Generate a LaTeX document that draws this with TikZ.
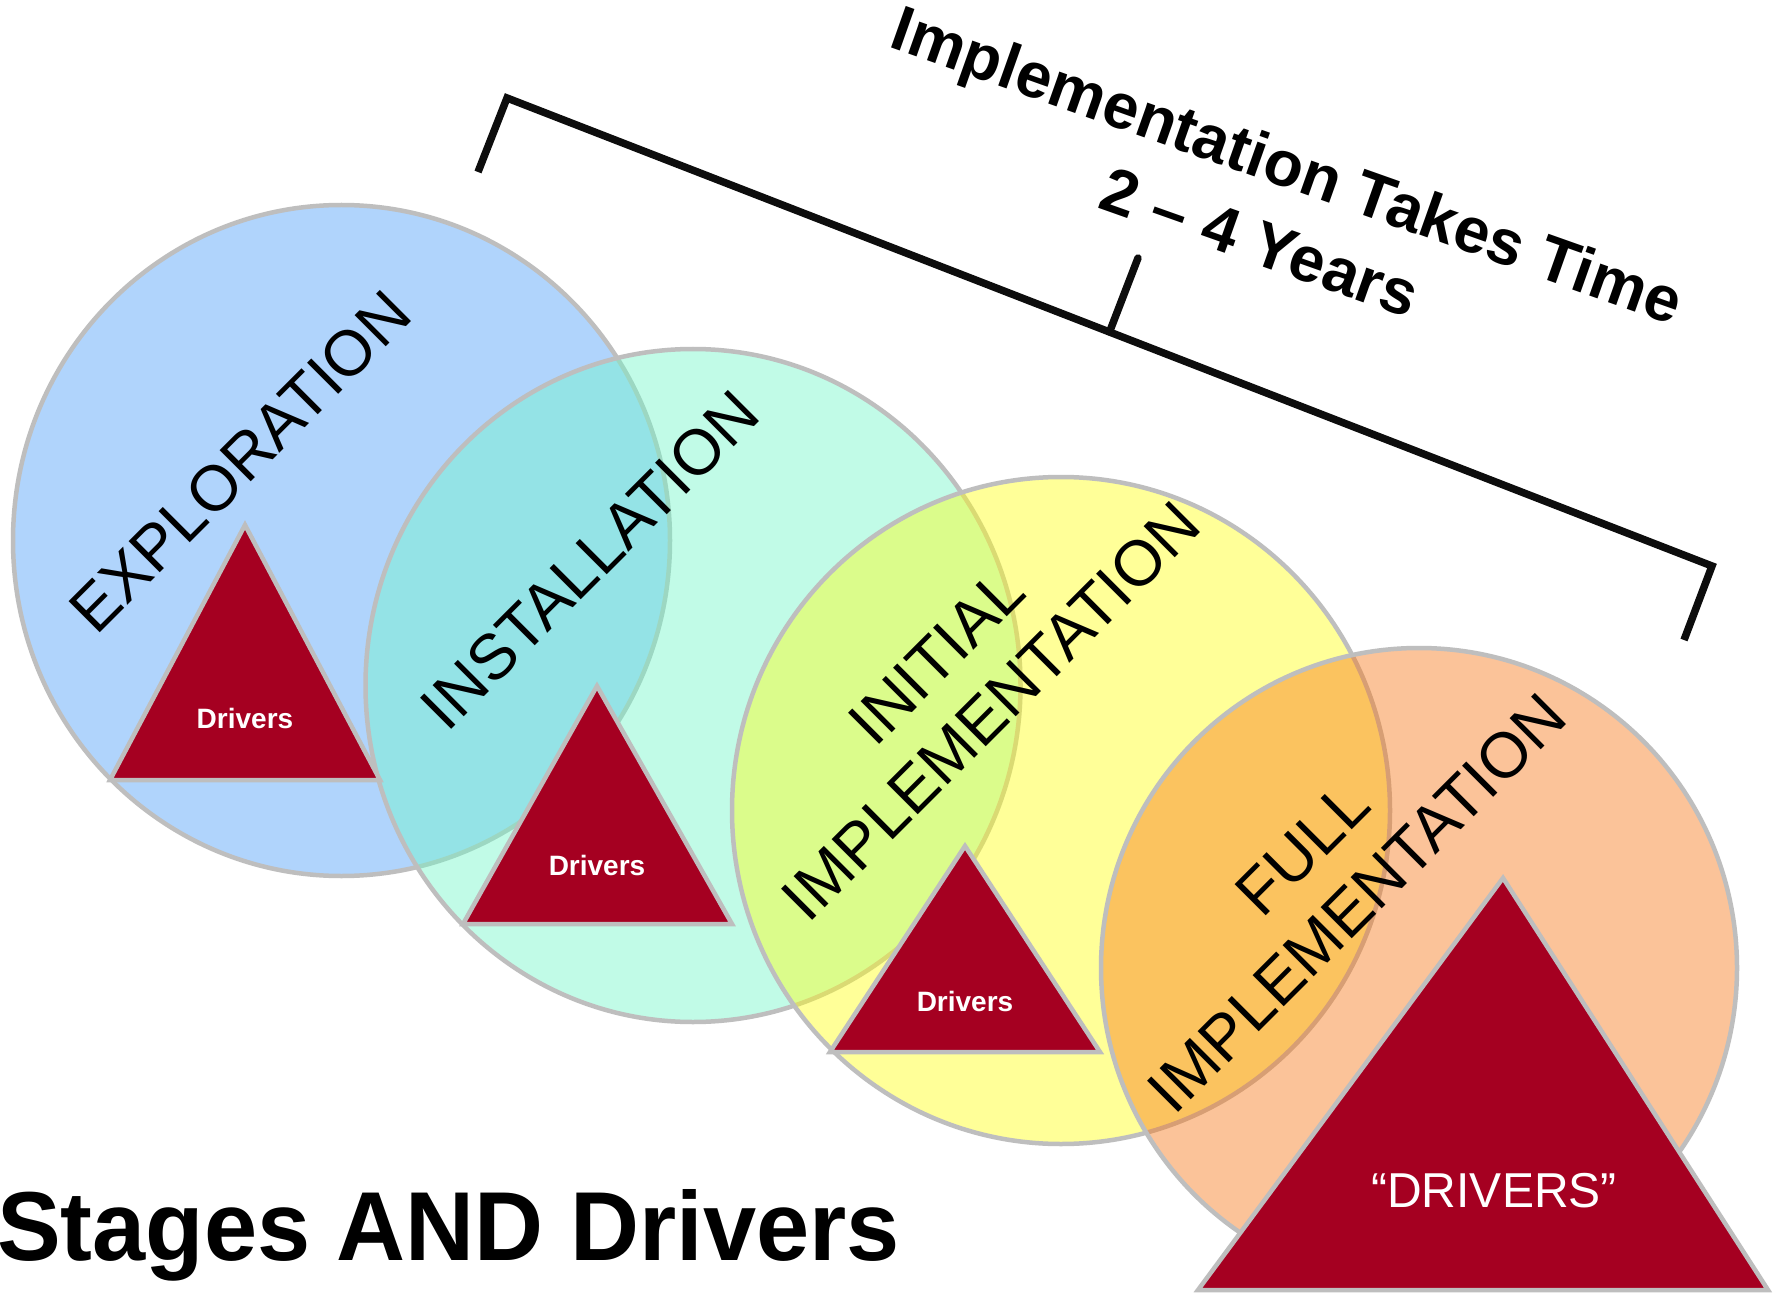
\documentclass[tikz,border=0pt]{standalone}
\usepackage{fontspec}
\setmainfont{Liberation Sans}
\usetikzlibrary{shapes.geometric}
\definecolor{bordC}{RGB}{190,190,190}
\definecolor{blueC}{RGB}{176,212,252}
\definecolor{mintC}{RGB}{113,248,201}
\definecolor{yelC}{RGB}{255,255,18}
\definecolor{oraC}{RGB}{248,118,20}
\definecolor{drvC}{RGB}{165,0,33}
\definecolor{brkC}{RGB}{13,13,13}
\begin{document}
\begin{tikzpicture}[x=1pt,y=-1pt,
  stagecircle/.style={ellipse, draw=bordC, line width=4.5pt, inner sep=0pt, outer sep=0pt, fill opacity=0.43},
  drvtri/.style={draw=bordC, line width=4.5pt, fill=drvC, line join=miter},
  stagelabel/.style={rotate=45, align=center, inner sep=0pt, font=\fontsize{64}{77}\selectfont},
  drvlabel/.style={text=white, inner sep=0pt, anchor=base, font=\fontsize{28}{34}\selectfont\bfseries},
  bracketline/.style={draw=brkC, line width=7.5pt}
]
\useasboundingbox (0,0) rectangle (1773,1297);
\fill[white] (0,0) rectangle (1773,1297);

% stage circles
\node[stagecircle, fill=blueC, fill opacity=1, minimum width=657pt, minimum height=671pt] (cexp) at (341.5,540.5) {};
\node[stagecircle, fill=mintC, minimum width=655pt, minimum height=673pt] (cins) at (693,685.5) {};
\node[stagecircle, fill=yelC, minimum width=658pt, minimum height=667pt] (cini) at (1061,810.5) {};
\node[stagecircle, fill=oraC, minimum width=636pt, minimum height=640pt] (cful) at (1419,968) {};

% driver triangles
\coordinate (t1a) at (245,525); \coordinate (t1r) at (380,780); \coordinate (t1l) at (110,780);
\coordinate (t2a) at (597,686); \coordinate (t2r) at (732,924); \coordinate (t2l) at (463,924);
\coordinate (t3a) at (965,846); \coordinate (t3r) at (1100,1052); \coordinate (t3l) at (830,1052);
\coordinate (t4a) at (1503,878); \coordinate (t4r) at (1768,1290); \coordinate (t4l) at (1198,1290);
\draw[drvtri] (t1a) -- (t1r) -- (t1l) -- cycle;
\draw[drvtri] (t2a) -- (t2r) -- (t2l) -- cycle;
\draw[drvtri] (t3a) -- (t3r) -- (t3l) -- cycle;
\draw[drvtri] (t4a) -- (t4r) -- (t4l) -- cycle;

% bracket
\coordinate (bl) at (478,172);
\coordinate (bc1) at (507,98);
\coordinate (bc2) at (1712,566);
\coordinate (br) at (1684,640);
\coordinate (tm) at (1109.5,332);
\coordinate (tt) at (1138,258);
\draw[bracketline, line join=miter] (bl) -- (bc1) -- (bc2) -- (br);
\draw[bracketline, line cap=round] (tm) -- (tt);

% labels
\node[stagelabel] (lexp) at (240,462) {EXPLORATION};
\node[stagelabel] (lins) at (590,560) {INSTALLATION};
\node[stagelabel] (lini) at (964,684) {INITIAL\\IMPLEMENTATION};
\node[stagelabel] (lful) at (1330,876) {FULL\\IMPLEMENTATION};

\node[drvlabel] (d1) at (245,728) {Drivers};
\node[drvlabel] (d2) at (597,875.5) {Drivers};
\node[drvlabel] (d3) at (965,1011.5) {Drivers};
\node[text=white, anchor=base, inner sep=0pt, font=\fontsize{49}{58}\selectfont, xscale=0.98] (d4) at (1494,1207) {“DRIVERS”};

\node[rotate=-19.5, align=center, inner sep=0pt, font=\fontsize{64}{82}\selectfont\bfseries] (ttl) at (1274,203) {Implementation Takes Time\\2 – 4 Years};

\node[anchor=base west, inner sep=0pt, font=\fontsize{98}{110}\selectfont\bfseries, xscale=0.975] (title) at (-3,1260) {Stages AND Drivers};
\end{tikzpicture}
\end{document}
